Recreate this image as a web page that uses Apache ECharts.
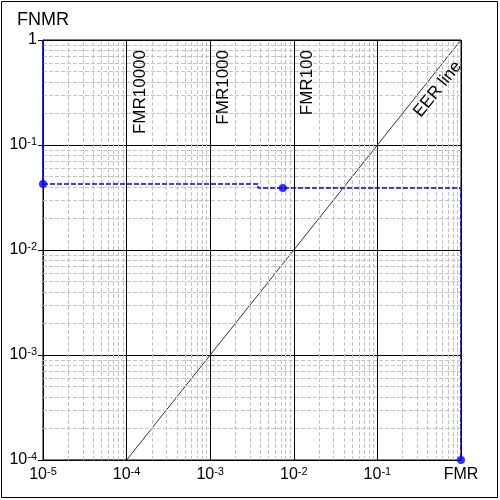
<!DOCTYPE html>
<html>
<head>
<meta charset="utf-8">
<script src="https://cdn.jsdelivr.net/npm/echarts@6/dist/echarts.min.js"></script>
<style>
  html, body { margin: 0; padding: 0; background: #fff; }
  #chart { width: 500px; height: 500px; }
</style>
</head>
<body>
<div id="chart"></div>
<script>
// 数据
const xMin = 1e-5, xMax = 1;
const yMin = 1e-4, yMax = 1;
// 蓝色 DET 曲线（阶梯）
const detSolid = [[1e-5, 1], [1e-5, 0.0425]];
const detDashed = [[1e-5, 0.0425], [3.73e-3, 0.0425], [3.73e-3, 0.0389], [1, 0.0389], [1, 1e-4]];
const detPoints = [[1e-5, 0.0425], [7.4e-3, 0.0389], [1, 1e-4]];
// EER 对角线
const eerLine = [[1.8e-5, 1e-4], [1e-4, 1e-4], [1, 1]];
// FMR 参考线
const fmrValues = [1e-4, 1e-3, 1e-2];
const fmrNames = ['FMR10000', 'FMR1000', 'FMR100'];
const xDecades = [-5, -4, -3, -2, -1];
const yDecades = [-4, -3, -2, -1];

const font = 'Liberation Sans, Arial, sans-serif';

// 次网格线 2..9 （用 coord，避免 markLine 对 xAxis/yAxis 值取整）
const minorLines = [];
xDecades.forEach(function (d) {
  for (let m = 2; m <= 9; m++) {
    const v = m * Math.pow(10, d);
    minorLines.push([{coord: [v, yMin]}, {coord: [v, yMax]}]);
  }
});
yDecades.forEach(function (d) {
  for (let m = 2; m <= 9; m++) {
    const v = m * Math.pow(10, d);
    minorLines.push([{coord: [xMin, v]}, {coord: [xMax, v]}]);
  }
});

function fmtLabel(v, last) {
  const e = Math.round(Math.log10(v));
  if (e === 0) return last;
  return '{b|10}{s|' + e + '}';
}
const rich = {
  b: {fontSize: 16, fontFamily: font, color: '#000', lineHeight: 18},
  s: {fontSize: 11, fontFamily: font, color: '#000', verticalAlign: 'top', lineHeight: 11}
};

const chart = echarts.init(document.getElementById('chart'));
const option = {
  animation: false,
  graphic: [{
    type: 'rect',
    shape: {x: 1.5, y: 1.5, width: 496, height: 496},
    style: {fill: 'none', stroke: '#000', lineWidth: 1},
    silent: true
  }],
  grid: {left: 43, right: 39, top: 40, bottom: 40, show: true, borderColor: '#000', borderWidth: 1, backgroundColor: 'transparent'},
  xAxis: {
    type: 'log',
    logBase: 10,
    min: xMin,
    max: xMax,
    splitNumber: 5,
    axisLine: {show: true, lineStyle: {color: '#000', width: 1}},
    axisTick: {show: false},
    axisLabel: {
      margin: 6,
      formatter: function (v) { return fmtLabel(v, '{b|FMR}'); },
      rich: rich,
      showMinLabel: true,
      showMaxLabel: true
    },
    splitLine: {show: true, lineStyle: {color: '#000', width: 1}},
    minorTick: {show: false}
  },
  yAxis: {
    type: 'log',
    logBase: 10,
    min: yMin,
    max: yMax,
    splitNumber: 4,
    name: 'FNMR',
    nameLocation: 'end',
    nameGap: 11,
    nameTextStyle: {fontSize: 18, fontFamily: font, color: '#000', align: 'center'},
    axisLine: {show: true, lineStyle: {color: '#000', width: 1}},
    axisTick: {show: true, inside: false, length: 5, lineStyle: {color: '#000'}},
    axisLabel: {
      margin: 6,
      formatter: function (v) { return fmtLabel(v, '{b|1}'); },
      rich: rich,
      showMinLabel: true,
      showMaxLabel: true
    },
    splitLine: {show: true, lineStyle: {color: '#000', width: 1}}
  },
  series: [
    {
      // 次网格
      type: 'line',
      data: [],
      silent: true,
      z: 1,
      markLine: {
        silent: true,
        symbol: 'none',
        animation: false,
        label: {show: false},
        lineStyle: {color: '#c4c4c4', type: [4, 2], width: 1},
        data: minorLines
      }
    },
    {
      // FMR 参考线
      type: 'line',
      data: [],
      silent: true,
      z: 3,
      markLine: {
        silent: true,
        symbol: 'none',
        animation: false,
        lineStyle: {color: '#000', type: 'solid', width: 1},
        label: {
          show: true,
          position: 'insideEndBottom',
          distance: [10, 5],
          fontSize: 17,
          fontFamily: font,
          color: '#000'
        },
        data: fmrValues.map(function (v, i) {
          return [
            {coord: [v, yMin], label: {formatter: fmrNames[i]}},
            {coord: [v, yMax]}
          ];
        })
      }
    },
    {
      name: 'EER line',
      type: 'line',
      data: eerLine,
      symbol: 'none',
      clip: false,
      z: 4,
      lineStyle: {color: '#333', width: 1},
      markLine: {
        silent: true,
        symbol: 'none',
        animation: false,
        lineStyle: {color: 'rgba(0,0,0,0)', width: 1},
        label: {
          show: true,
          position: 'insideEndBottom',
          distance: [20, 4],
          fontSize: 17,
          fontFamily: font,
          color: '#000',
          formatter: 'EER line'
        },
        data: [[{coord: [1e-4, 1e-4]}, {coord: [1, 1]}]]
      }
    },
    {
      type: 'line',
      data: detSolid,
      symbol: 'none',
      clip: false,
      z: 5,
      lineStyle: {color: '#0000ff', width: 1.5}
    },
    {
      type: 'line',
      data: detDashed,
      symbol: 'none',
      clip: false,
      z: 5,
      lineStyle: {color: '#0000ff', width: 1.5, type: [5, 2]}
    },
    {
      type: 'scatter',
      data: detPoints,
      symbol: 'circle',
      symbolSize: 8,
      clip: false,
      z: 6,
      itemStyle: {color: '#0000ff'}
    }
  ]
};
chart.setOption(option);
</script>
</body>
</html>
